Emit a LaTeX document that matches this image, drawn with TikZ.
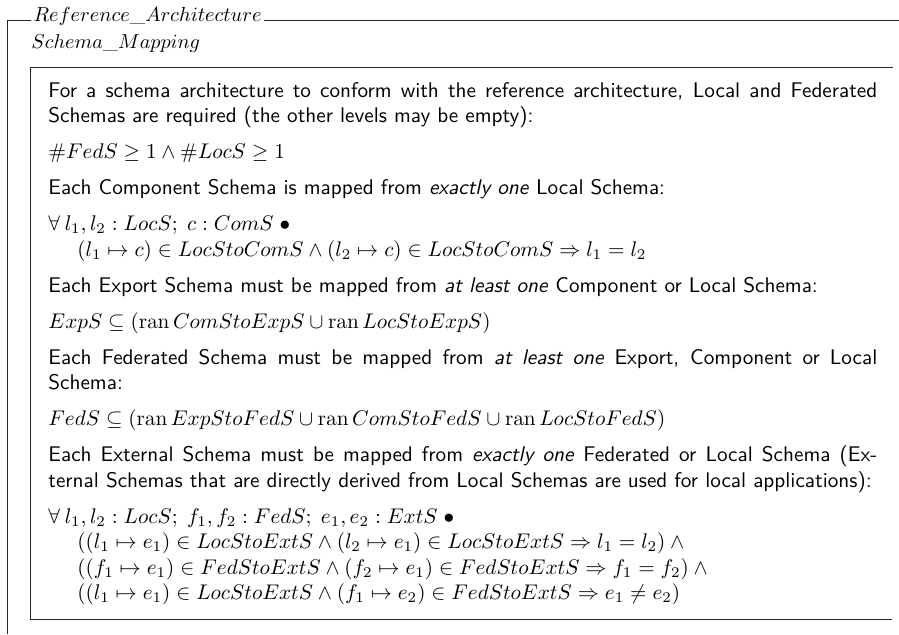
\documentclass[tikz,border=0pt]{standalone}
\usepackage{amsmath}
% Z-style schema box: an open section frame holding one schema
\tikzset{
  zframe/.style={line width=0.45pt, draw=black!85},
  ztitle/.style={inner ysep=0pt, inner xsep=1pt, font=\normalsize},
  zbody/.style={inner sep=0pt, font=\normalsize\sffamily, align=left}
}
\newcommand{\zran}{\mathrm{ran}\,}
\newcommand{\zind}{\hspace*{13.7pt}}
\newcommand{\zall}{\forall\:}
\newcommand{\zdot}{\;\bullet}
\begin{document}
\begin{tikzpicture}[x=0.4717pt, y=-0.4717pt]
\useasboundingbox (0,0) rectangle (899,634);

% outer section frame
\coordinate (otop) at (7,20);
\coordinate (obot) at (7,634);
\coordinate (oend) at (899,20);
\node[ztitle, anchor=base west] (rtitle) at (31,21) {\scalebox{0.96}{$Reference\_Architecture$}};
\draw[zframe] (obot) -- (otop) -- (rtitle.west |- otop);
\draw[zframe] (rtitle.east |- otop) -- (oend);

% schema name and box
\node[inner sep=0pt, anchor=base west] (stitle) at (31,48) {\scalebox{0.95}{$Schema\_Mapping$}};
\coordinate (itl) at (30,67);
\coordinate (itr) at (893,67);
\coordinate (ibl) at (30,619);
\coordinate (ibr) at (892,619);
\draw[zframe] (itr) -- (itl) -- (ibl) -- (ibr);

% predicate part
\node[zbody, anchor=base west] (body) at (48,97) {%
\begin{minipage}[t]{391pt}
\setlength{\parindent}{0pt}\setlength{\parskip}{5pt}%
For a schema architecture to conform with the reference architecture, Local and Federated\linebreak
Schemas are required (the other levels may be empty):\par
$\#FedS \geq 1 \land \#LocS \geq 1$\par
Each Component Schema is mapped from \textit{exactly one} Local Schema:\par
$\zall l_1, l_2 : LocS;\; c : ComS \zdot$\\
\zind$(l_1 \mapsto c) \in LocStoComS \land (l_2 \mapsto c) \in LocStoComS \Rightarrow l_1 = l_2$\par
Each Export Schema must be mapped from \textit{at least one} Component or Local Schema:\par
$ExpS \subseteq (\zran ComStoExpS \cup \zran LocStoExpS)$\par
Each Federated Schema must be mapped from \textit{at least one} Export, Component or Local\linebreak
Schema:\par
$FedS \subseteq (\zran ExpStoFedS \cup \zran ComStoFedS \cup \zran LocStoFedS)$\par
Each External Schema must be mapped from \textit{exactly one} Federated or Local Schema (Ex-\linebreak
ternal Schemas that are directly derived from Local Schemas are used for local applications):\par
$\zall l_1, l_2 : LocS;\; f_1, f_2 : FedS;\; e_1, e_2 : ExtS \zdot$\\
\zind$((l_1 \mapsto e_1) \in LocStoExtS \land (l_2 \mapsto e_1) \in LocStoExtS \Rightarrow l_1 = l_2) \land {}$\\
\zind$((f_1 \mapsto e_1) \in FedStoExtS \land (f_2 \mapsto e_1) \in FedStoExtS \Rightarrow f_1 = f_2) \land {}$\\
\zind$((l_1 \mapsto e_1) \in LocStoExtS \land (f_1 \mapsto e_2) \in FedStoExtS \Rightarrow e_1 \neq e_2)$
\end{minipage}};
\end{tikzpicture}
\end{document}
